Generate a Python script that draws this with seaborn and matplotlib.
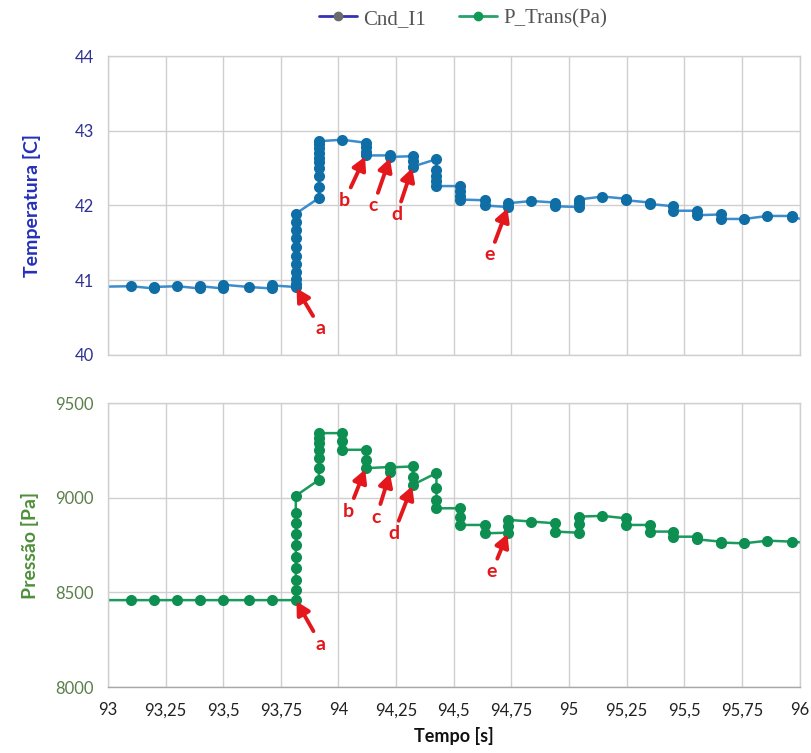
import numpy as np
import pandas as pd
import matplotlib
matplotlib.use("Agg")
import matplotlib.pyplot as plt
import seaborn as sns
from matplotlib.lines import Line2D

# ===============================
# DATA
# ===============================

# sample times; each entry may hold several samples taken at ~the same instant
tempo = [92.9, 93.10, 93.20, 93.30, 93.40, 93.50, 93.61, 93.71, 93.815, 93.915,
         94.015, 94.118, 94.225, 94.322, 94.425, 94.527, 94.634, 94.735, 94.837,
         94.938, 95.042, 95.145, 95.247, 95.35, 95.452, 95.555, 95.657, 95.76,
         95.86, 95.965, 96.1]

temperatura = [
    [40.91], [40.92], [40.89, 40.91], [40.92], [40.89, 40.92], [40.89, 40.94],
    [40.91], [40.89, 40.93],
    [40.91, 40.95, 41.02, 41.11, 41.22, 41.33, 41.44, 41.56, 41.67, 41.78, 41.89],
    [42.10, 42.25, 42.39, 42.50, 42.58, 42.64, 42.70, 42.77, 42.82, 42.86],
    [42.88], [42.84, 42.78, 42.72, 42.67], [42.67, 42.65], [42.66, 42.60, 42.52],
    [42.62, 42.48, 42.40, 42.33, 42.26], [42.26, 42.20, 42.13, 42.08],
    [42.07, 42.00], [41.98, 42.03], [42.06], [42.04, 41.99], [41.98, 42.03, 42.08],
    [42.12], [42.09, 42.07], [42.04, 42.02], [41.99, 41.93], [41.93, 41.87],
    [41.88, 41.82], [41.82], [41.86], [41.86, 41.84], [41.78],
]

pressao = [
    [8459], [8459], [8459], [8459], [8459], [8459], [8459], [8459],
    [8459, 8512, 8565, 8627, 8688, 8750, 8808, 8865, 8921, 9010],
    [9094, 9156, 9209, 9253, 9288, 9315, 9341],
    [9341, 9300, 9253], [9253, 9200, 9156], [9162, 9135, 9160], [9165, 9110, 9068],
    [9130, 9050, 8990, 8944], [8944, 8900, 8856], [8856, 8812], [8815, 8850, 8883],
    [8874], [8865, 8821], [8815, 8860, 8900], [8904], [8891, 8856], [8856, 8821],
    [8821, 8794], [8794, 8780], [8768, 8763], [8759], [8773], [8768], [8755],
]

xticks = [93, 93.25, 93.5, 93.75, 94, 94.25, 94.5, 94.75, 95, 95.25, 95.5, 95.75, 96]
xtick_labels = ["93", "93,25", "93,5", "93,75", "94", "94,25", "94,5", "94,75",
                "95", "95,25", "95,5", "95,75", "96"]

# annotation letters -> (time index, sample index), text offset in pixels
anot_temp = {"a": (8, 0, 25, -42), "b": (11, -1, -21, -45), "c": (12, -1, -17, -49),
             "d": (13, -1, -16, -48), "e": (17, 0, -18, -48)}
anot_pres = {"a": (8, 0, 25, -44), "b": (11, -1, -17, -43), "c": (12, 1, -14, -45),
             "d": (13, -1, -19, -49), "e": (17, 0, -16, -39)}


def expand(times, groups, name):
    rows = []
    for t, vals in zip(times, groups):
        for v in vals:
            rows.append([t, v])
    return pd.DataFrame(rows, columns=["t", name])


df_t = expand(tempo, temperatura, "temp")
df_p = expand(tempo, pressao, "pres")

# ===============================
# STYLE
# ===============================
sns.set_style("whitegrid")
plt.rcParams["font.family"] = ["Lato", "DejaVu Sans"]

blue_line, blue_mk = "#3d8ccc", "#106ea6"
green_line, green_mk = "#1a9a5c", "#0e8f52"
red = "#e3171c"
grid_c = "#cfcfcf"

fig = plt.figure(figsize=(8.11, 7.53), dpi=100)
ax1 = fig.add_axes([0.133, 0.5286, 0.853, 0.397])
ax2 = fig.add_axes([0.133, 0.0876, 0.853, 0.3772])


def style_axes(ax):
    ax.set_xlim(93, 96)
    ax.set_xticks(xticks)
    ax.grid(True, color=grid_c, lw=1)
    for s in ax.spines.values():
        s.set_visible(True)
        s.set_color(grid_c)
        s.set_linewidth(1)


def annotate(ax, df, col, anot):
    for letter, (ti, si, dx, dy) in anot.items():
        sub = df[df["t"] == tempo[ti]]
        x = sub["t"].iloc[si]
        y = sub[col].iloc[si]
        ax.annotate(letter, xy=(x, y), xytext=(dx, dy), textcoords="offset pixels",
                    ha="center", va="center", fontsize=14, fontweight="bold", color=red,
                    arrowprops=dict(arrowstyle="-|>,head_width=0.3,head_length=0.55",
                                    mutation_scale=14, color=red, lw=2.8,
                                    shrinkA=1, shrinkB=1))


# ---- temperature ----
sns.lineplot(data=df_t, x="t", y="temp", estimator=None, sort=False, ax=ax1,
             color=blue_line, lw=1.8, marker="o", markersize=8,
             markerfacecolor=blue_mk, markeredgecolor=blue_mk, mew=0)
style_axes(ax1)
ax1.set_ylim(40, 44)
ax1.set_yticks([40, 41, 42, 43, 44])
ax1.tick_params(axis="x", labelbottom=False, length=0)
ax1.tick_params(axis="y", labelsize=12, labelcolor="#2e3192", length=0, pad=10)
ax1.set_xlabel("")
ax1.set_ylabel("Temperatura [C]", fontsize=14, fontweight="bold", color="#2430b8",
               labelpad=24)
annotate(ax1, df_t, "temp", anot_temp)

# ---- pressure ----
sns.lineplot(data=df_p, x="t", y="pres", estimator=None, sort=False, ax=ax2,
             color=green_line, lw=1.8, marker="o", markersize=8,
             markerfacecolor=green_mk, markeredgecolor=green_mk, mew=0)
style_axes(ax2)
ax2.set_ylim(8000, 9500)
ax2.set_yticks([8000, 8500, 9000, 9500])
ax2.set_xticklabels(xtick_labels)
ax2.spines["bottom"].set_color("#a8a8a8")
ax2.tick_params(axis="x", labelsize=12, labelcolor="#222222", length=5,
                color="#a8a8a8", direction="out", pad=6)
ax2.tick_params(axis="y", labelsize=12, labelcolor="#5b7f4a", length=0, pad=10)
ax2.set_xlabel("Tempo [s]", fontsize=13, fontweight="bold", color="#111111", labelpad=6)
ax2.set_ylabel("Pressão [Pa]", fontsize=14, fontweight="bold", color="#4f8f3a",
               labelpad=12)
annotate(ax2, df_p, "pres", anot_pres)

# ---- legend ----
handles = [Line2D([0], [0], color="#3333b5", lw=2, marker="o", markersize=6,
                  markerfacecolor="#6b6b6b", markeredgecolor="#6b6b6b"),
           Line2D([0], [0], color="#2aa06a", lw=2, marker="o", markersize=6,
                  markerfacecolor="#0e9a55", markeredgecolor="#0e9a55")]
fig.legend(handles, ["Cnd_I1", "P_Trans(Pa)"], loc="center", ncol=2,
           bbox_to_anchor=(0.571, 0.975), frameon=False, handlelength=1.8,
           handletextpad=0.3, columnspacing=1.6,
           prop={"family": "Liberation Serif", "size": 15},
           labelcolor="#555555")

plt.savefig("out.png", dpi=100)
